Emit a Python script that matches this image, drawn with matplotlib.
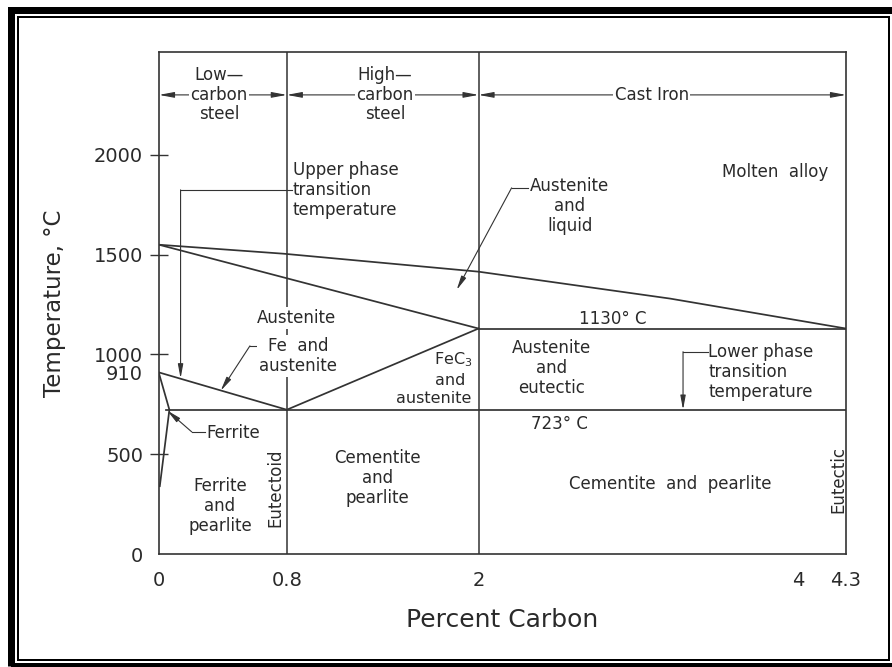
import matplotlib
matplotlib.use("Agg")
import matplotlib.pyplot as plt
from matplotlib.patches import Rectangle

plt.rcParams['font.family'] = ['DejaVu Sans']

# ---------------- data ----------------
x_ticks = [0, 0.8, 2, 4, 4.3]
x_tick_labels = ["0", "0.8", "2", "4", "4.3"]
y_ticks = [0, 500, 910, 1000, 1500, 2000]
y_tick_labels = ["0", "500", "910", "1000", "1500", "2000"]

liquidus_x = [0, 0.78, 2.0, 3.2, 4.3]
liquidus_t = [1550, 1505, 1415, 1280, 1130]
solidus_x = [0, 2.0]
solidus_t = [1550, 1130]
a3_x = [0, 0.8]
a3_t = [910, 723]
acm_x = [0.8, 2.0]
acm_t = [723, 1130]
ferrite_x = [0, 0.065, 0.005]
ferrite_t = [905, 723, 340]
eutectic_x = [2.0, 4.3]
eutectic_t = [1130, 1130]
eutectoid_x = [0.045, 4.3]
eutectoid_t = [723, 723]
divider_x = [0.8, 2.0]

region_bounds = [(0, 0.8), (0.8, 2.0), (2.0, 4.3)]
region_labels = ["Low—\ncarbon\nsteel", "High—\ncarbon\nsteel", "Cast Iron"]
region_label_x = [0.377, 1.414, 3.083]
region_row_t = 2301

# leaders: polyline points, last segment ends with an arrow
upper_leader = ([0.835, 0.135, 0.135], [1825, 1825, 880])
lower_leader = ([3.435, 3.28, 3.28], [1014, 1014, 723])
liquid_leader = ([2.31, 2.207, 1.863], [1835, 1835, 1323])
feaus_leader = ([0.636, 0.569, 0.386], [1043, 1043, 818])
ferrite_leader = ([0.285, 0.205, 0.05], [612, 612, 720])

# ---------------- figure ----------------
W, H = 892, 667
fig = plt.figure(figsize=(W / 100, H / 100), dpi=100)
ax = fig.add_axes([159 / W, 1 - 554 / H, (846 - 159) / W, (554 - 52) / H])
ax.set_xlim(0, 4.3)
ax.set_ylim(0, 2516)

LC = '#333333'
TC = '#2a2a2a'
LW = 1.25

for s in ax.spines.values():
    s.set_color(LC)
    s.set_linewidth(1.2)

ax.plot(liquidus_x, liquidus_t, color=LC, lw=LW, zorder=2)
ax.plot(solidus_x, solidus_t, color=LC, lw=LW, zorder=2)
ax.plot(a3_x, a3_t, color=LC, lw=LW, zorder=2)
ax.plot(acm_x, acm_t, color=LC, lw=LW, zorder=2)
ax.plot(ferrite_x, ferrite_t, color=LC, lw=LW, zorder=2)
ax.plot(eutectic_x, eutectic_t, color=LC, lw=LW, zorder=2)
ax.plot(eutectoid_x, eutectoid_t, color=LC, lw=LW, zorder=2)
for xv in divider_x:
    ax.axvline(xv, color=LC, lw=1.1, zorder=2)

# region arrows
for (a, b), lab, lx in zip(region_bounds, region_labels, region_label_x):
    ax.annotate('', xy=(b, region_row_t), xytext=(a, region_row_t),
                arrowprops=dict(arrowstyle='<|-|>,head_length=0.75,head_width=0.14',
                                color=LC, lw=0.8, shrinkA=0, shrinkB=0,
                                mutation_scale=12), zorder=2)
    ax.text(lx, region_row_t, lab, ha='center', va='center', fontsize=12,
            color=TC, linespacing=1.1, zorder=4,
            bbox=dict(facecolor='white', edgecolor='none', pad=1.0))

def leader(pts):
    xs, ts = pts
    ax.plot(xs[:-1], ts[:-1], color=LC, lw=0.8, zorder=2)
    ax.annotate('', xy=(xs[-1], ts[-1]), xytext=(xs[-2], ts[-2]),
                arrowprops=dict(arrowstyle='-|>,head_length=0.7,head_width=0.13',
                                color=LC, lw=0.8, shrinkA=0, shrinkB=0,
                                mutation_scale=12), zorder=2)

for p in (upper_leader, lower_leader, liquid_leader, feaus_leader, ferrite_leader):
    leader(p)

def txt(x, t, s, ha='center', bg=False, **kw):
    kw.setdefault('fontsize', 12)
    b = dict(facecolor='white', edgecolor='none', pad=1.5) if bg else None
    ax.text(x, t, s, ha=ha, va='center', color=TC, linespacing=1.15,
            zorder=4, bbox=b, **kw)

txt(0.837, 1825, "Upper phase\ntransition\ntemperature", ha='left')
txt(3.855, 1916, "Molten  alloy")
txt(2.572, 1746, "Austenite\nand\nliquid")
txt(0.862, 1184, "Austenite", bg=True)
txt(0.87, 992, "Fe  and\naustenite", bg=True)
txt(1.84, 972, "FeC$_3$", fontsize=11.5)
txt(1.82, 870, "and", fontsize=11.5)
txt(1.72, 780, "austenite", fontsize=11.5)
txt(2.84, 1178, "1130° C")
txt(2.457, 934, "Austenite\nand\neutectic")
txt(3.437, 914, "Lower phase\ntransition\ntemperature", ha='left')
txt(2.509, 652, "723° C")
txt(3.198, 349, "Cementite  and  pearlite")
txt(4.251, 371, "Eutectic", rotation=90)
txt(1.369, 382, "Cementite\nand\npearlite")
txt(0.382, 241, "Ferrite\nand\npearlite")
txt(0.730, 334, "Eutectoid", rotation=90)
txt(0.294, 607, "Ferrite", ha='left')

# ticks
ax.set_xticks(x_ticks)
ax.set_xticklabels(x_tick_labels)
ax.set_yticks(y_ticks)
ax.set_yticklabels(y_tick_labels)
ax.tick_params(axis='x', length=0, pad=12, labelsize=14, labelcolor=TC)
ax.tick_params(axis='y', direction='inout', length=13, width=1.0, color=LC,
               pad=5, labelsize=14, labelcolor=TC)
yt = ax.yaxis.get_major_ticks()
for i in (0, 2):
    yt[i].tick1line.set_visible(False)

ax.set_xlabel("Percent Carbon", fontsize=18, color=TC, labelpad=13)
ax.set_ylabel("Temperature, °C", fontsize=16.5, color=TC, labelpad=20)

# picture frame
def frect(x0, y0, x1, y1, lw_px):
    r = Rectangle((x0 / W, 1 - y1 / H), (x1 - x0) / W, (y1 - y0) / H,
                  transform=fig.transFigure, fill=False, edgecolor='black',
                  linewidth=lw_px * 0.72, clip_on=False)
    fig.add_artist(r)

frect(11, 10, 900, 666, 7)
frect(18.3, 16.8, 889.3, 659.5, 2)

fig.savefig("out.png", dpi=100, facecolor='white')
